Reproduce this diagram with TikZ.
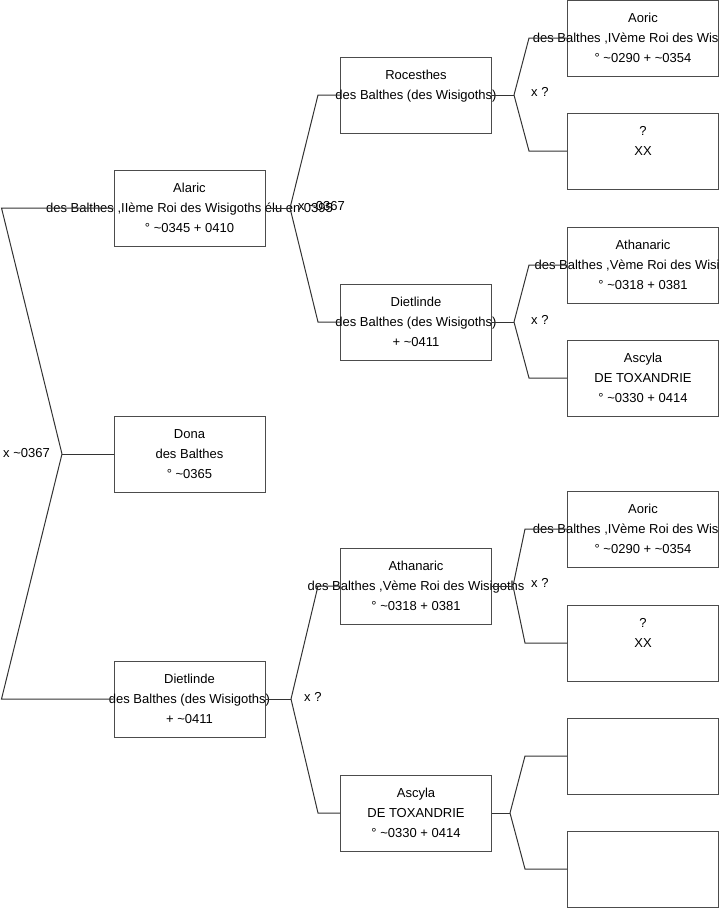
\documentclass[tikz,border=0pt]{standalone}
\usepackage{fontspec}
\setmainfont{Liberation Sans}
\usetikzlibrary{positioning}
\tikzset{
  person/.style={draw=black!70, line width=1pt, minimum width=151pt, minimum height=76pt,
                 inner sep=0pt, align=center, font=\fontsize{13}{20}\selectfont},
  tag/.style={font=\fontsize{13}{15}\selectfont, inner sep=0pt, anchor=west},
  link/.style={draw=black!80, line width=1pt},
}
\newcommand{\tl}{\textasciitilde}
\newcommand{\spill}[1]{\makebox[0pt]{#1}}

\begin{document}
\begin{tikzpicture}[x=1pt, y=-1pt]
  \useasboundingbox (0,0) rectangle (719,908);
  \clip (0,0) rectangle (719,908);

  % generation 1
  \node[person] (alaric) at (189.5,208) {Alaric\\\spill{des Balthes ,IIème Roi des Wisigoths élu en 0395}\\° \tl0345 + 0410};
  \node[person] (dona) at (189.5,454) {Dona\\des Balthes\\° \tl0365};
  \node[person] (dietA) at (189.5,699) {Dietlinde\\\spill{des Balthes (des Wisigoths)}\\+ \tl0411};

  % generation 2
  \node[person] (rocesthes) at (416,95) {Rocesthes\\\spill{des Balthes (des Wisigoths)}\\\mbox{}};
  \node[person] (dietB) at (416,322) {Dietlinde\\\spill{des Balthes (des Wisigoths)}\\+ \tl0411};
  \node[person] (athanB) at (416,586) {Athanaric\\\spill{des Balthes ,Vème Roi des Wisigoths}\\° \tl0318 + 0381};
  \node[person] (ascylaB) at (416,813) {Ascyla\\DE TOXANDRIE\\° \tl0330 + 0414};

  % generation 3
  \node[person] (aoricA) at (643,38) {Aoric\\\spill{des Balthes ,IVème Roi des Wisigoths}\\° \tl0290 + \tl0354};
  \node[person] (unkA) at (643,151) {?\\XX\\\mbox{}};
  \node[person] (athanC) at (643,265) {Athanaric\\\spill{des Balthes ,Vème Roi des Wisigoths}\\° \tl0318 + 0381};
  \node[person] (ascylaC) at (643,378) {Ascyla\\DE TOXANDRIE\\° \tl0330 + 0414};
  \node[person] (aoricB) at (643,529) {Aoric\\\spill{des Balthes ,IVème Roi des Wisigoths}\\° \tl0290 + \tl0354};
  \node[person] (unkB) at (643,643) {?\\XX\\\mbox{}};
  \node[person] (emptyA) at (643,756) {};
  \node[person] (emptyB) at (643,869) {};

  % couples
  \coordinate (r0) at (62,454);
  \draw[link] (dona.west) -- (r0);
  \draw[link] (r0) -- ([xshift=-112pt]alaric.west) -- (alaric.west);
  \draw[link] (r0) -- ([xshift=-112pt]dietA.west) -- (dietA.west);
  \node[tag, anchor=east] (m0) at ([xshift=-12pt,yshift=1pt]r0) {x \tl0367};

  \coordinate (j1) at (290,208);
  \draw[link] (alaric.east) -- (j1);
  \draw[link] (j1) -- ([xshift=-22pt]rocesthes.west) -- (rocesthes.west);
  \draw[link] (j1) -- ([xshift=-22pt]dietB.west) -- (dietB.west);
  \node[tag] (m1) at ([xshift=8pt,yshift=2pt]j1) {x \tl0367};

  \coordinate (j2) at (291,699);
  \draw[link] (dietA.east) -- (j2);
  \draw[link] (j2) -- ([xshift=-22pt]athanB.west) -- (athanB.west);
  \draw[link] (j2) -- ([xshift=-22pt]ascylaB.west) -- (ascylaB.west);
  \node[tag] (m2) at ([xshift=13pt,yshift=2pt]j2) {x ?};

  \coordinate (j3) at (514,95);
  \draw[link] (rocesthes.east) -- (j3);
  \draw[link] (j3) -- ([xshift=-38pt]aoricA.west) -- (aoricA.west);
  \draw[link] (j3) -- ([xshift=-38pt]unkA.west) -- (unkA.west);
  \node[tag] (m3) at ([xshift=17pt,yshift=3pt]j3) {x ?};

  \coordinate (j4) at (514,322);
  \draw[link] (dietB.east) -- (j4);
  \draw[link] (j4) -- ([xshift=-38pt]athanC.west) -- (athanC.west);
  \draw[link] (j4) -- ([xshift=-38pt]ascylaC.west) -- (ascylaC.west);
  \node[tag] (m4) at ([xshift=17pt,yshift=2pt]j4) {x ?};

  \coordinate (j5) at (513,586);
  \draw[link] (athanB.east) -- (j5);
  \draw[link] (j5) -- ([xshift=-42pt]aoricB.west) -- (aoricB.west);
  \draw[link] (j5) -- ([xshift=-42pt]unkB.west) -- (unkB.west);
  \node[tag] (m5) at ([xshift=18pt,yshift=3pt]j5) {x ?};

  \coordinate (j6) at (510,813);
  \draw[link] (ascylaB.east) -- (j6);
  \draw[link] (j6) -- ([xshift=-42pt]emptyA.west) -- (emptyA.west);
  \draw[link] (j6) -- ([xshift=-42pt]emptyB.west) -- (emptyB.west);
\end{tikzpicture}
\end{document}
